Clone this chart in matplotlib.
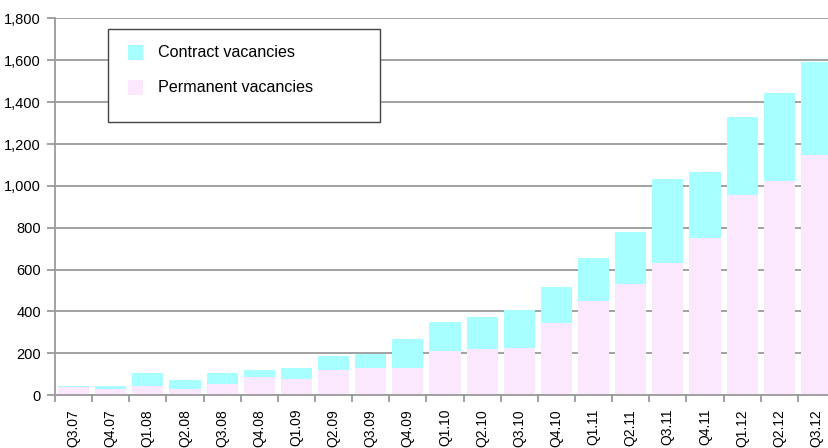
import matplotlib.pyplot as plt
from matplotlib.patches import Rectangle
import numpy as np

plt.rcParams['font.family'] = ['Liberation Sans', 'DejaVu Sans']

quarters = ['Q3.07', 'Q4.07', 'Q1.08', 'Q2.08', 'Q3.08', 'Q4.08', 'Q1.09',
            'Q2.09', 'Q3.09', 'Q4.09', 'Q1.10', 'Q2.10', 'Q3.10', 'Q4.10',
            'Q1.11', 'Q2.11', 'Q3.11', 'Q4.11', 'Q1.12', 'Q2.12', 'Q3.12']

permanent = [37, 29, 44, 29, 53, 85, 77, 120, 128, 128, 210, 218, 226, 343,
             448, 531, 629, 752, 956, 1023, 1147]
total = [44, 44, 104, 72, 104, 120, 128, 185, 196, 266, 350, 374, 406, 515,
         653, 778, 1031, 1064, 1327, 1442, 1590]
contract = [t - p for t, p in zip(total, permanent)]

perm_color = '#fce8fc'
cont_color = '#a8ffff'
grid_color = '#9a9a9a'

W, H = 829, 448
fig = plt.figure(figsize=(W / 100, H / 100), dpi=100)
ax = fig.add_axes([55 / W, 1 - 395 / H, (835 - 55) / W, (395 - 18.5) / H])

x = np.arange(len(quarters))
ax.bar(x, permanent, width=0.84, color=perm_color, zorder=3)
ax.bar(x, contract, width=0.84, bottom=permanent, color=cont_color, zorder=3)

ax.set_xlim(-0.5, len(quarters) - 0.5)
ax.set_ylim(0, 1800)
ax.set_yticks(range(0, 1801, 200))
ax.set_yticklabels([f'{v:,}' for v in range(0, 1801, 200)], fontsize=10.5)
ax.yaxis.grid(True, color=grid_color, linewidth=1.3, zorder=1)

ax.set_xticks(x)
ax.set_xticklabels(quarters, rotation=90, fontsize=10)
ax.set_xticks(x - 0.5, minor=True)
ax.tick_params(axis='x', which='major', length=0, pad=10)
ax.tick_params(axis='x', which='minor', length=5, width=1.3, color=grid_color)
ax.tick_params(axis='y', length=6, width=1.3, color=grid_color, pad=4)

for s in ['top', 'right']:
    ax.spines[s].set_visible(False)
for s in ['left', 'bottom']:
    ax.spines[s].set_color(grid_color)
    ax.spines[s].set_linewidth(1.3)
    ax.spines[s].set_zorder(4)

# legend box
fig.patches.append(Rectangle((108 / W, 1 - 122 / H), 272 / W, 93 / H,
                             transform=fig.transFigure, facecolor='white',
                             edgecolor='#444444', linewidth=1, zorder=5))
labels = ['Contract vacancies', 'Permanent vacancies']
colors = [cont_color, perm_color]
for i, (lab, c) in enumerate(zip(labels, colors)):
    yc = 52.5 + 35 * i
    fig.patches.append(Rectangle((128 / W, 1 - (yc + 7.5) / H), 15 / W, 15 / H,
                                 transform=fig.transFigure, facecolor=c,
                                 edgecolor='none', zorder=6))
    fig.text(158 / W, 1 - yc / H, lab, fontsize=11.6, va='center', zorder=7)

fig.savefig('out.png', dpi=100)
